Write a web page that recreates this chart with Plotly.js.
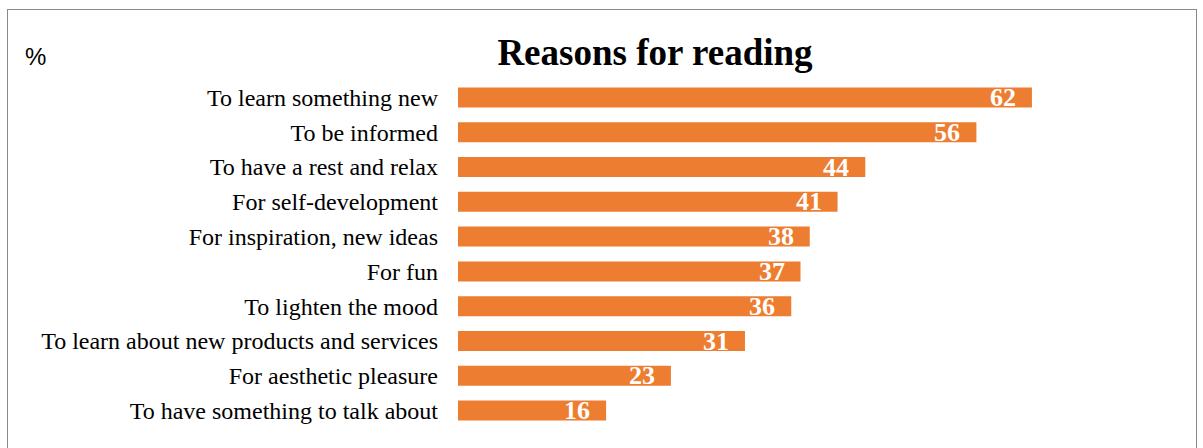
<!DOCTYPE html>
<html>
<head>
<meta charset="utf-8">
<script src="https://cdn.plot.ly/plotly-3.0.1.min.js"></script>
<style>
  html, body { margin: 0; padding: 0; background: #fff; }
  #wrap { position: relative; width: 1203px; height: 448px; overflow: hidden; }
  #chart { position: absolute; left: 0; top: 0; width: 1203px; height: 448px; }
  #frame { position: absolute; left: 7px; top: 9px; width: 1188px; height: 470px;
           border: 1px solid #8a8a8a; pointer-events: none; }
</style>
</head>
<body>
<div id="wrap">
  <div id="chart"></div>
  <div id="frame"></div>
</div>
<script>
const categories = [
  "To learn something new",
  "To be informed",
  "To have a rest and relax",
  "For self-development",
  "For inspiration, new ideas",
  "For fun",
  "To lighten the mood",
  "To learn about new products and services",
  "For aesthetic pleasure",
  "To have something to talk about"
];
const values = [62, 56, 44, 41, 38, 37, 36, 31, 23, 16];
const chartTitle = "Reasons for reading";
const unitLabel = "%";

const W = 1203, H = 448;
const ml = 458, mr = 97, mt = 80, mb = 20;
const pw = W - ml - mr, ph = H - mt - mb;
const serif = "Liberation Serif, Times New Roman, serif";

const annotations = values.map((v, i) => ({
  x: v, y: categories[i], xref: 'x', yref: 'y',
  text: '<b>' + v + '</b>', showarrow: false,
  xanchor: 'right', yanchor: 'middle', xshift: -14, yshift: 0,
  font: { family: serif, size: 26, color: '#ffffff' }
}));
annotations.push({
  xref: 'paper', yref: 'paper',
  x: (35 - ml) / pw, y: (H - mb - 56) / ph,
  text: unitLabel, showarrow: false, xanchor: 'center', yanchor: 'middle',
  font: { family: 'Liberation Sans, Arial, sans-serif', size: 24, color: '#000' }
});

Plotly.newPlot('chart', [{
  type: 'bar', orientation: 'h',
  x: values, y: categories,
  marker: { color: '#ED7D31', line: { width: 0 } },
  hoverinfo: 'none'
}], {
  width: W, height: H,
  margin: { l: ml, r: mr, t: mt, b: mb, pad: 0 },
  paper_bgcolor: '#fff', plot_bgcolor: '#fff',
  bargap: 0.425,
  showlegend: false,
  title: {
    text: '<b>' + chartTitle + '</b>',
    xref: 'container', yref: 'container',
    x: 655 / W, y: 1 - 52 / H, xanchor: 'center', yanchor: 'middle',
    font: { family: serif, size: 37, color: '#000' }
  },
  xaxis: { range: [0, 70], visible: false, fixedrange: true },
  yaxis: {
    autorange: 'reversed', type: 'category',
    showgrid: false, zeroline: false, showline: false,
    ticks: '', ticklabelstandoff: 19,
    tickfont: { family: serif, size: 24, color: '#000' },
    fixedrange: true
  },
  annotations: annotations
}, { displayModeBar: false, staticPlot: true });
</script>
</body>
</html>
